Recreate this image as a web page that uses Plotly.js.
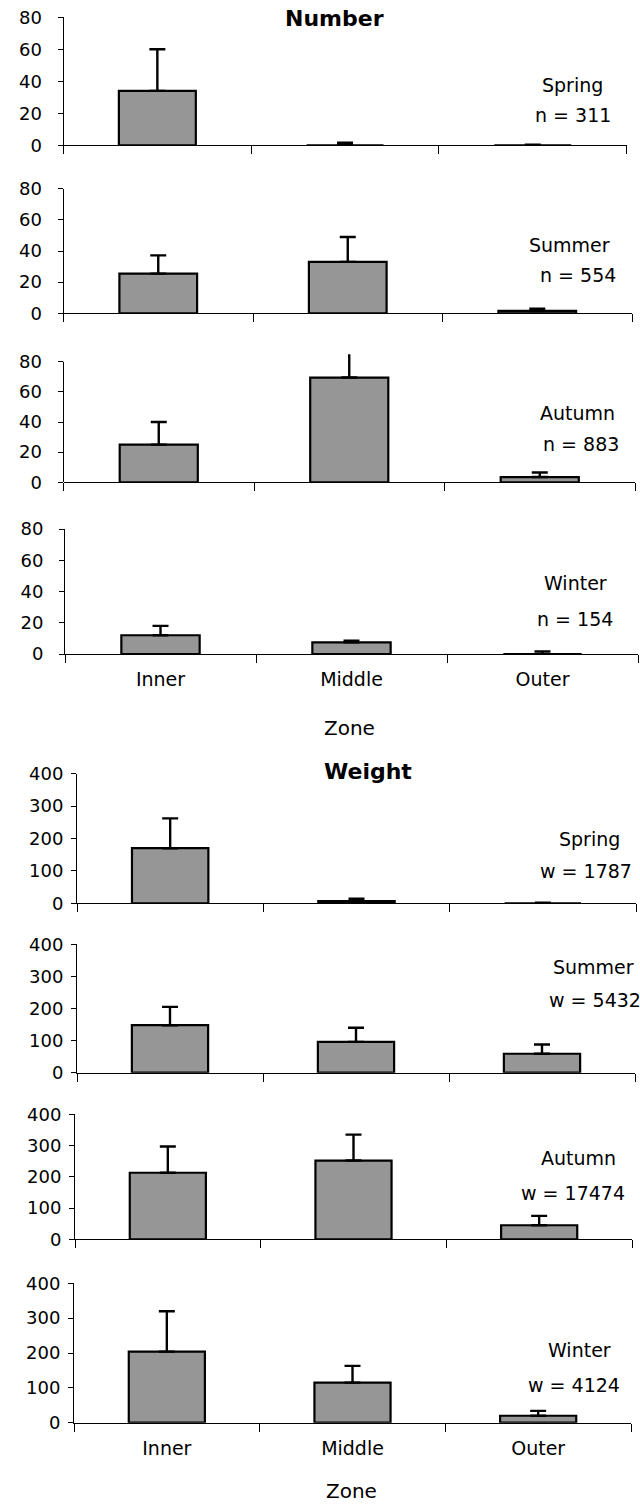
<!DOCTYPE html>
<html><head><meta charset="utf-8">
<script src="https://cdn.plot.ly/plotly-3.0.1.min.js"></script>
<style>html,body{margin:0;padding:0;background:#fff}#chart{width:640px;height:1505px}</style>
</head><body><div id="chart"></div>
<script>
// ---- data ----
const zones = ['Inner', 'Middle', 'Outer'];
const seasons = ['Spring', 'Summer', 'Autumn', 'Winter'];
const nTotals = [311, 554, 883, 154];
const wTotals = [1787, 5432, 17474, 4124];

const numSpring = [34, 0, 0];       const numSpringErr = [26, 1.6, 0.4];
const numSummer = [25.5, 33, 1.5];  const numSummerErr = [11.7, 16, 1.5];
const numAutumn = [25, 69.5, 3.5];  const numAutumnErr = [15, 17, 3];
const numWinter = [12, 7.5, 0];     const numWinterErr = [6, 1, 1.7];

const wtSpring = [170, 7, 0];       const wtSpringErr = [92, 7, 1.5];
const wtSummer = [148, 96, 59];     const wtSummerErr = [57, 44, 29];
const wtAutumn = [213, 252, 45];    const wtAutumnErr = [84, 83, 30];
const wtWinter = [204, 115, 20];    const wtWinterErr = [116, 48, 14];

const numVals = [numSpring, numSummer, numAutumn, numWinter];
const numErrs = [numSpringErr, numSummerErr, numAutumnErr, numWinterErr];
const wtVals = [wtSpring, wtSummer, wtAutumn, wtWinter];
const wtErrs = [wtSpringErr, wtSummerErr, wtAutumnErr, wtWinterErr];

// ---- geometry (pixels) ----
const W = 640, H = 1505;
const px = x => x / W;
const py = y => 1 - y / H;
// [xLeft, xRight, yTop(of range max), yBottom(0)]
const geo = [
  [63.5, 626.6, 17.3, 145.3],
  [63.5, 632, 188.7, 313.3],
  [63.5, 635, 354.2, 482.3],
  [65, 638, 529, 654],
  [77, 636, 773.7, 903.3],
  [77, 635, 944.3, 1072.7],
  [75, 632, 1114.3, 1239.3],
  [74, 631, 1283.3, 1422.7]
];
const labelPos = [
  [572, 85, 573, 115],
  [569, 245, 578, 275],
  [577, 413, 581, 444],
  [575, 583, 575, 619],
  [589, 839, 586, 871],
  [593, 967, 595, 1000],
  [578, 1158, 573, 1193],
  [579, 1350, 574, 1385]
];

const FONT = 'DejaVu Sans, Verdana, sans-serif';
const traces = [];
const layout = {
  width: W, height: H,
  margin: {l: 0, r: 0, t: 0, b: 0},
  paper_bgcolor: '#fff', plot_bgcolor: 'rgba(0,0,0,0)',
  showlegend: false,
  font: {family: FONT, size: 17, color: '#000'},
  annotations: [], shapes: []
};

for (let i = 0; i < 8; i++) {
  const isNum = i < 4;
  const s = i % 4;
  const vals = isNum ? numVals[s] : wtVals[s];
  const errs = isNum ? numErrs[s] : wtErrs[s];
  const k = i + 1;
  const xa = 'x' + (k === 1 ? '' : k), ya = 'y' + (k === 1 ? '' : k);
  traces.push({
    type: 'bar', x: zones, y: vals, xaxis: xa, yaxis: ya,
    width: 0.41,
    marker: {color: '#969696', line: {color: '#000', width: 2.2}},
    error_y: {type: 'data', symmetric: false, array: errs, arrayminus: errs.map(() => 0),
              color: '#000', thickness: 2.4, width: 8}
  });
  const g = geo[i];
  const ymax = isNum ? 80 : 400;
  const top = (isNum && s === 2) ? 85 : ymax;
  const showLabels = (s === 3);
  layout['xaxis' + (k === 1 ? '' : k)] = {
    domain: [px(g[0]), px(g[1])], anchor: ya,
    type: 'category', tickson: 'boundaries', ticks: 'outside', ticklen: 8, tickwidth: 1,
    tickcolor: '#000', showline: true, linecolor: '#000', linewidth: 1,
    showgrid: false, zeroline: false, fixedrange: true,
    showticklabels: showLabels, ticklabelstandoff: 8,
    tickfont: {family: FONT, size: 19, color: '#000'}
  };
  layout['yaxis' + (k === 1 ? '' : k)] = {
    domain: [py(g[3]), py(g[2])], anchor: xa,
    range: [0, top], dtick: isNum ? 20 : 100, tick0: 0,
    ticks: 'outside', ticklen: 5, tickwidth: 1, tickcolor: '#000',
    showline: top === ymax, linecolor: '#000', linewidth: 1,
    showgrid: false, zeroline: false, fixedrange: true,
    ticklabelstandoff: isNum ? 12 : 4,
    tickfont: {family: FONT, size: 18, color: '#000'}
  };
  if (top !== ymax) {
    layout.shapes.push({type: 'line', xref: xa + ' domain', yref: ya,
      x0: 0, x1: 0, y0: 0, y1: ymax, line: {color: '#000', width: 1}});
  }
  const lp = labelPos[i];
  layout.annotations.push({xref: 'paper', yref: 'paper', x: px(lp[0]), y: py(lp[1]),
    text: seasons[s], showarrow: false, xanchor: 'center', yanchor: 'middle',
    font: {family: FONT, size: 19, color: '#000'}});
  layout.annotations.push({xref: 'paper', yref: 'paper', x: px(lp[2]), y: py(lp[3]),
    text: (isNum ? 'n = ' + nTotals[s] : 'w = ' + wTotals[s]), showarrow: false,
    xanchor: 'center', yanchor: 'middle',
    font: {family: FONT, size: 19, color: '#000'}});
}

// titles
layout.annotations.push({xref: 'paper', yref: 'paper', x: px(334), y: py(18), text: '<b>Number</b>',
  showarrow: false, xanchor: 'center', yanchor: 'middle', font: {family: FONT, size: 22, color: '#000'}});
layout.annotations.push({xref: 'paper', yref: 'paper', x: px(368), y: py(771), text: '<b>Weight</b>',
  showarrow: false, xanchor: 'center', yanchor: 'middle', font: {family: FONT, size: 22, color: '#000'}});
layout.annotations.push({xref: 'paper', yref: 'paper', x: px(349), y: py(728), text: 'Zone',
  showarrow: false, xanchor: 'center', yanchor: 'middle', font: {family: FONT, size: 20, color: '#000'}});
layout.annotations.push({xref: 'paper', yref: 'paper', x: px(351), y: py(1491), text: 'Zone',
  showarrow: false, xanchor: 'center', yanchor: 'middle', font: {family: FONT, size: 20, color: '#000'}});

Plotly.newPlot('chart', traces, layout, {displayModeBar: false, staticPlot: true});
</script></body></html>
